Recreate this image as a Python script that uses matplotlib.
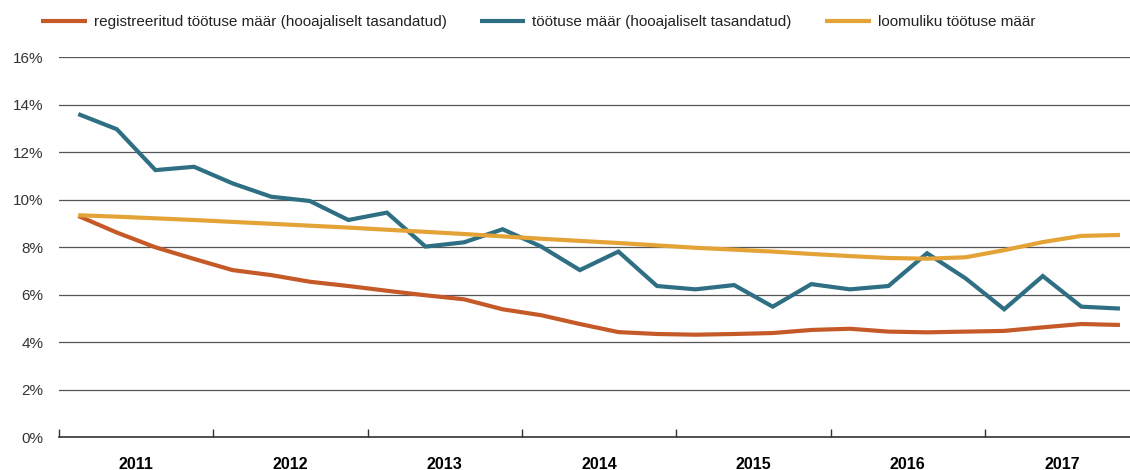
import matplotlib
matplotlib.use("Agg")
import matplotlib.pyplot as plt
from matplotlib.ticker import FixedLocator, FuncFormatter

plt.rcParams["font.family"] = ["Liberation Sans", "DejaVu Sans"]

years = ["2011", "2012", "2013", "2014", "2015", "2016", "2017"]

# kvartaalsed andmed 2011 I kv ... 2017 IV kv (%)
registreeritud = [9.32, 8.62, 8.00, 7.51, 7.04, 6.83, 6.55, 6.37,
                  6.17, 5.98, 5.81, 5.39, 5.14, 4.77, 4.43, 4.35,
                  4.32, 4.35, 4.39, 4.52, 4.57, 4.45, 4.42, 4.45,
                  4.48, 4.63, 4.77, 4.73]
tootuse = [13.61, 12.97, 11.25, 11.39, 10.69, 10.13, 9.95, 9.15,
           9.46, 8.03, 8.21, 8.76, 8.03, 7.04, 7.82, 6.37,
           6.23, 6.41, 5.50, 6.45, 6.23, 6.37, 7.75, 6.69,
           5.39, 6.79, 5.50, 5.42]
loomuliku = [9.35, 9.29, 9.22, 9.15, 9.07, 8.99, 8.91, 8.83,
             8.74, 8.65, 8.56, 8.46, 8.36, 8.27, 8.18, 8.08,
             7.98, 7.90, 7.82, 7.72, 7.63, 7.55, 7.52, 7.58,
             7.88, 8.22, 8.48, 8.52]

labels = ["registreeritud töötuse määr (hooajaliselt tasandatud)",
          "töötuse määr (hooajaliselt tasandatud)",
          "loomuliku töötuse määr"]
colors = ["#C55A28", "#2F6F83", "#E4A336"]

W, H = 1130, 470
fig = plt.figure(figsize=(W / 100, H / 100), dpi=100)
ax = fig.add_axes((59 / W, (H - 437.3) / H, (W - 59) / W, 380 / H))

x = list(range(len(tootuse)))
for ys, c, lab in zip([registreeritud, tootuse, loomuliku], colors, labels):
    ax.plot(x, ys, color=c, lw=3, label=lab, solid_capstyle="butt",
            solid_joinstyle="miter")

ax.set_ylim(0, 16)
ax.set_xlim(-0.5, (W - 59) / 38.58 - 0.5)
ax.set_yticks(range(0, 17, 2))
ax.yaxis.set_major_formatter(FuncFormatter(lambda v, p: f"{int(v)}%"))
ax.tick_params(axis="y", length=0, pad=11, labelsize=11, labelcolor="#333333")
ax.grid(axis="y", color="#555555", lw=0.9)
ax.set_axisbelow(True)

for s in ("top", "right", "left"):
    ax.spines[s].set_visible(False)
ax.spines["bottom"].set_color("#333333")
ax.spines["bottom"].set_linewidth(1.2)

ax.xaxis.set_major_locator(FixedLocator([-0.5 + 4 * i for i in range(8)]))
ax.xaxis.set_minor_locator(FixedLocator([1.5 + 4 * i for i in range(len(years))]))
ax.set_xticklabels([])
ax.set_xticklabels(years, minor=True, fontweight="bold", fontsize=11.5)
ax.tick_params(axis="x", which="major", direction="in", length=6,
               width=1, color="#333333")
ax.tick_params(axis="x", which="minor", length=0, pad=14)

fig.legend(loc="upper left", bbox_to_anchor=(41 / W, 1 - 15 / H), ncol=3,
           frameon=False, fontsize=11, handlelength=3.0, handletextpad=0.46,
           columnspacing=2.15, borderpad=0, borderaxespad=0,
           labelcolor="#222222")

fig.savefig("out.png", dpi=100)
